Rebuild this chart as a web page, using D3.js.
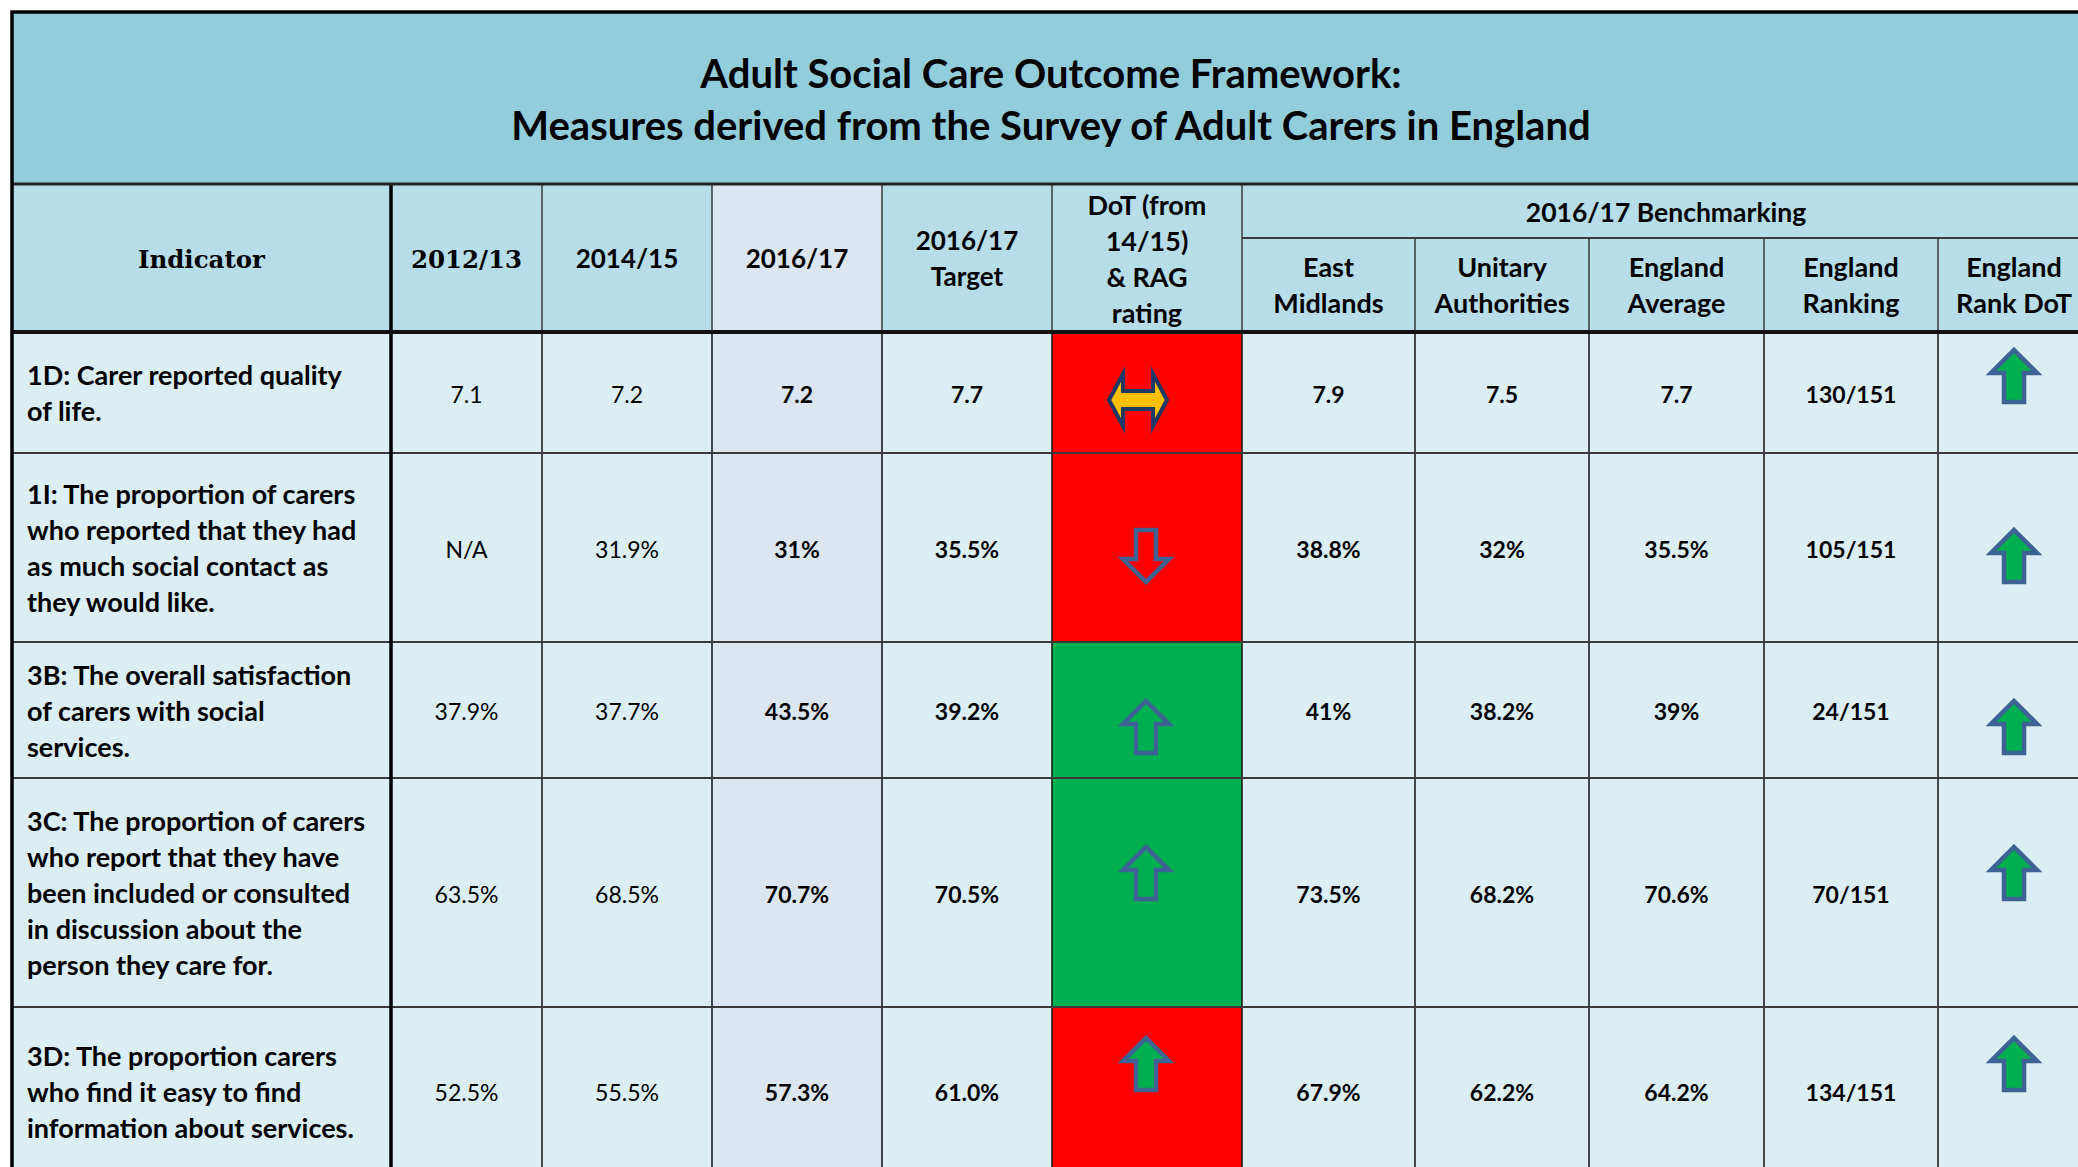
<!DOCTYPE html>
<html>
<head>
<meta charset="utf-8">
<script src="https://cdn.jsdelivr.net/npm/d3@7"></script>
<style>
  body { margin: 0; background: #fff; overflow: hidden; }
  text { font-family: Lato, "Open Sans", sans-serif; fill: #000; }
</style>
</head>
<body>
<div id="chart"></div>
<script>
// ---- data ----
const titleLines = [
  "Adult Social Care Outcome Framework:",
  "Measures derived from the Survey of Adult Carers in England"
];
const colKeys = ["ind", "y1213", "y1415", "y1617", "target", "dot", "em", "ua", "eav", "erank", "rdot"];
const headerLabels = [["Indicator"], ["2012/13"], ["2014/15"], ["2016/17"], ["2016/17", "Target"], ["DoT (from", "14/15)", "& RAG", "rating"]];
const groupLabel = "2016/17 Benchmarking";
const subLabels = [["East", "Midlands"], ["Unitary", "Authorities"], ["England", "Average"], ["England", "Ranking"], ["England", "Rank DoT"]];

const indicators = [
  ["1D: Carer reported quality", "of life."],
  ["1I: The proportion of carers", "who reported that they had", "as much social contact as", "they would like."],
  ["3B: The overall satisfaction", "of carers with social", "services."],
  ["3C: The proportion of carers", "who report that they have", "been included or consulted", "in discussion about the", "person they care for."],
  ["3D: The proportion carers", "who find it easy to find", "information about services."]
];
const v2012 = ["7.1", "N/A", "37.9%", "63.5%", "52.5%"];
const v2014 = ["7.2", "31.9%", "37.7%", "68.5%", "55.5%"];
const v2016 = ["7.2", "31%", "43.5%", "70.7%", "57.3%"];
const target = ["7.7", "35.5%", "39.2%", "70.5%", "61.0%"];
const rag = ["red", "red", "green", "green", "red"];
const dotDir = ["same", "down", "up", "up", "up"];
const eastMidlands = ["7.9", "38.8%", "41%", "73.5%", "67.9%"];
const unitary = ["7.5", "32%", "38.2%", "68.2%", "62.2%"];
const englandAvg = ["7.7", "35.5%", "39%", "70.6%", "64.2%"];
const englandRank = ["130/151", "105/151", "24/151", "70/151", "134/151"];
const rankDir = ["up", "up", "up", "up", "up"];

// ---- layout ----
const W = 2078, H = 1167;
const tableLeft = 12;
const colWidths = [379, 151, 170, 170, 170, 190, 173, 174, 175, 174, 152];
const colEdges = [tableLeft, ...d3.cumsum(colWidths).map(d => tableLeft + d)];
const titleTop = 12, headTop = 184, subTop = 238, bodyTop = 332;
const rowHeights = [121, 189, 136, 229, 168];
const rowEdges = [bodyTop, ...d3.cumsum(rowHeights).map(d => bodyTop + d)];
const tableRight = colEdges[colEdges.length - 1];
// arrows float in their cells, offsets from top of row
const dotArrowCy = [68, 103, 85, 95, 57];
const rankArrowCy = [44, 103, 85, 95, 57];

const x = d3.scaleOrdinal().domain(colKeys).range(colEdges.slice(0, -1));
const xEnd = d3.scaleOrdinal().domain(colKeys).range(colEdges.slice(1));
const y = d3.scaleOrdinal().domain(d3.range(rowHeights.length)).range(rowEdges.slice(0, -1));
const yEnd = d3.scaleOrdinal().domain(d3.range(rowHeights.length)).range(rowEdges.slice(1));
const cx = k => (x(k) + xEnd(k)) / 2;

const ragColor = { red: "#FF0000", green: "#00B050" };
const values = { y1213: v2012, y1415: v2014, y1617: v2016, target: target, em: eastMidlands, ua: unitary, eav: englandAvg, erank: englandRank };

const FS = 23, LH = 36;
const serifFont = "'DejaVu Serif', serif";

const svg = d3.select("#chart").append("svg")
  .attr("width", W).attr("height", H);

function lines(g, arr, tx, cy, opt) {
  const fs = opt.size || FS, lh = opt.lh || LH;
  const cap = fs * (opt.cap || 0.72);
  const t = g.append("text")
    .attr("text-anchor", opt.anchor || "middle")
    .style("font-size", fs + "px")
    .style("font-weight", opt.weight || "bold");
  if (opt.family) t.style("font-family", opt.family);
  arr.forEach((s, i) => {
    t.append("tspan")
      .attr("x", tx)
      .attr("y", cy - (arr.length - 1) / 2 * lh + i * lh + cap / 2 + (opt.dy || 0))
      .text(s);
  });
}

// title band
svg.append("rect")
  .attr("x", tableLeft).attr("y", titleTop)
  .attr("width", tableRight - tableLeft).attr("height", headTop - titleTop)
  .attr("fill", "#92CDDC");
lines(svg, titleLines, (tableLeft + tableRight) / 2, 100, { size: 40, lh: 52, dy: 0 });

// header cells
const head = svg.append("g");
colKeys.forEach((k, i) => {
  const top = i < 6 ? headTop : subTop;
  head.append("rect")
    .attr("x", x(k)).attr("y", top)
    .attr("width", xEnd(k) - x(k)).attr("height", bodyTop - top)
    .attr("fill", k === "y1617" ? "#DCE6F1" : "#B7DEE8");
});
head.append("rect")
  .attr("x", x("em")).attr("y", headTop)
  .attr("width", xEnd("rdot") - x("em")).attr("height", subTop - headTop)
  .attr("fill", "#B7DEE8");

headerLabels.forEach((lab, i) => {
  const k = colKeys[i];
  const serif = k === "ind" || k === "y1213";
  lines(head, lab, cx(k), (headTop + bodyTop) / 2,
    serif ? { family: serifFont, size: 24.5, cap: 0.73, dy: 1 } : { size: k === "dot" ? 27 : 26, dy: 1 });
});
lines(head, [groupLabel], (x("em") + xEnd("rdot")) / 2, (headTop + subTop) / 2, { size: 26.5, dy: 1 });
subLabels.forEach((lab, i) => {
  const k = colKeys[i + 6];
  lines(head, lab, cx(k), (subTop + bodyTop) / 2, { size: 27, dy: 0 });
});

// body cells
const body = svg.append("g");
indicators.forEach((ind, r) => {
  colKeys.forEach(k => {
    let fill = "#DAEEF3";
    if (k === "y1617") fill = "#DCE6F1";
    if (k === "dot") fill = ragColor[rag[r]];
    body.append("rect")
      .attr("x", x(k)).attr("y", y(r))
      .attr("width", xEnd(k) - x(k)).attr("height", yEnd(r) - y(r))
      .attr("fill", fill);
  });
  const cy = (y(r) + yEnd(r)) / 2;
  lines(body, ind, x("ind") + 15, cy, { anchor: "start", size: 27, cap: 0.66, dy: 2 });
  Object.keys(values).forEach(k => {
    const regular = k === "y1213" || k === "y1415";
    lines(body, [values[k][r]], cx(k), cy, { weight: regular ? "normal" : "bold", dy: 2 });
  });
});

// grid lines
const grid = svg.append("g").attr("fill", "none");
function line(x1, y1, x2, y2, w, c) {
  grid.append("line").attr("x1", x1).attr("y1", y1).attr("x2", x2).attr("y2", y2)
    .attr("stroke", c || "#1a1a1a").attr("stroke-width", w);
}
colKeys.slice(1).forEach((k, i) => {
  const top = i + 1 >= 7 ? subTop : headTop;
  line(x(k), top, x(k), bodyTop, 1.5, "#3a3a3a");
  line(x(k), bodyTop, x(k), H + 20, 1.5, "#111");
});
line(x("em"), subTop, tableRight, subTop, 2, "#3a3a3a");
rowEdges.slice(1).forEach(e => line(tableLeft, e, tableRight, e, 2, "#3a3a3a"));
line(x("y1213"), headTop, x("y1213"), H + 20, 3.5, "#000");
line(tableLeft, headTop, tableRight, headTop, 3, "#222");
line(tableLeft, bodyTop, tableRight, bodyTop, 4, "#111");
grid.append("rect")
  .attr("x", tableLeft).attr("y", titleTop)
  .attr("width", tableRight - tableLeft).attr("height", H + 40)
  .attr("stroke", "#000").attr("stroke-width", 3.5);

// arrows
function upPath(w, h, headH, shaftW) {
  const hw = w / 2, sw = shaftW / 2, t = -h / 2, b = h / 2, hb = t + headH;
  return `M0,${t}L${hw},${hb}L${sw},${hb}L${sw},${b}L${-sw},${b}L${-sw},${hb}L${-hw},${hb}Z`;
}
function bothPath(w, h, headD, shaftH) {
  const hw = w / 2, hh = h / 2, sh = shaftH / 2, a = -hw + headD, b = hw - headD;
  return `M${-hw},0L${a},${-hh}L${a},${-sh}L${b},${-sh}L${b},${-hh}L${hw},0L${b},${hh}L${b},${sh}L${a},${sh}L${a},${hh}Z`;
}
const arrows = svg.append("g");
function arrow(dir, ax, ay) {
  if (dir === "same") {
    arrows.append("path").attr("d", bothPath(58, 52, 14, 18))
      .attr("transform", `translate(${ax},${ay})`)
      .attr("fill", "#FFC000").attr("stroke", "#1F3864").attr("stroke-width", 4)
      .attr("stroke-miterlimit", 10);
  } else {
    arrows.append("path").attr("d", upPath(46, 52, 23, 20))
      .attr("transform", `translate(${ax},${ay}) rotate(${dir === "down" ? 180 : 0})`)
      .attr("fill", dir === "down" ? "none" : "#00B050")
      .attr("stroke", "#3F6294").attr("stroke-width", 4.5);
  }
}
dotDir.forEach((d, r) => arrow(d, cx("dot") + (d === "same" ? -9 : -1), y(r) + dotArrowCy[r]));
rankDir.forEach((d, r) => arrow(d, cx("rdot"), y(r) + rankArrowCy[r]));
</script>
</body>
</html>
